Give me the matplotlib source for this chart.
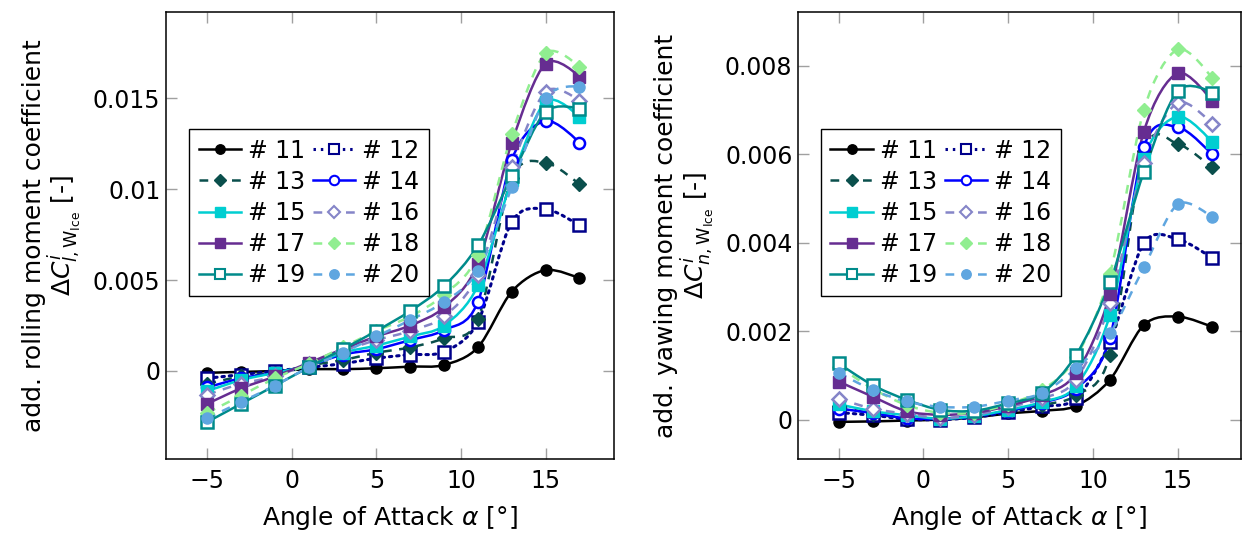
import numpy as np
import matplotlib
matplotlib.use("Agg")
import matplotlib.pyplot as plt
from matplotlib.path import Path
from matplotlib.patches import PathPatch
from matplotlib.lines import Line2D

plt.rcParams['font.family'] = ['DejaVu Sans']
plt.rcParams['mathtext.fontset'] = 'dejavusans'

# angle of attack
aoa = [-5, -3, -1, 1, 3, 5, 7, 9, 11, 13, 15, 17]
labels = ['# 11', '# 12', '# 13', '# 14', '# 15', '# 16', '# 17', '# 18', '# 19', '# 20']

# additional rolling moment coefficient
roll_11 = [-0.0001, -0.00005, 0.0, 0.0001, 0.0001, 0.00015, 0.00024, 0.00033, 0.0013, 0.00436, 0.00555, 0.0051]
roll_12 = [-0.0004, -0.0002, 0.0, 0.0002, 0.0004, 0.0007, 0.0009, 0.00106, 0.0027, 0.0082, 0.0089, 0.0080]
roll_13 = [-0.0007, -0.0003, -0.0001, 0.0003, 0.0006, 0.001, 0.0013, 0.0018, 0.00284, 0.0106, 0.01145, 0.01026]
roll_14 = [-0.0009, -0.0004, -0.0001, 0.0003, 0.0009, 0.0012, 0.0017, 0.00225, 0.0038, 0.0116, 0.01375, 0.01255]
roll_15 = [-0.0011, -0.0005, -0.0001, 0.0003, 0.001, 0.0014, 0.0019, 0.0025, 0.0047, 0.0105, 0.0148, 0.01394]
roll_16 = [-0.0013, -0.0007, -0.0003, 0.0004, 0.0011, 0.0017, 0.0022, 0.003, 0.0053, 0.0112, 0.01535, 0.01484]
roll_17 = [-0.0018, -0.00095, -0.0003, 0.00045, 0.0012, 0.0019, 0.0025, 0.0035, 0.0059, 0.01255, 0.0169, 0.01617]
roll_18 = [-0.0023, -0.00135, -0.0004, 0.0004, 0.0013, 0.0022, 0.003, 0.0042, 0.0064, 0.013, 0.01746, 0.01669]
roll_19 = [-0.0028, -0.0018, -0.0008, 0.0002, 0.0012, 0.0022, 0.0033, 0.00467, 0.0069, 0.0107, 0.01425, 0.0144]
roll_20 = [-0.0026, -0.0017, -0.0008, 0.0002, 0.001, 0.0019, 0.0028, 0.0038, 0.0055, 0.0101, 0.015, 0.01562]

# additional yawing moment coefficient
yaw_11 = [-0.00005, -0.00004, -0.00002, 0.0, 0.00005, 0.00014, 0.0002, 0.00031, 0.0009, 0.00214, 0.00233, 0.0021]
yaw_12 = [0.00016, 0.0001, 0.00001, 0.0, 0.00005, 0.00017, 0.0003, 0.00048, 0.00176, 0.00399, 0.00408, 0.00366]
yaw_13 = [0.0003, 0.00013, 0.00004, 0.00002, 0.00008, 0.0002, 0.00033, 0.00055, 0.00146, 0.00606, 0.00623, 0.0057]
yaw_14 = [0.00025, 0.00015, 0.00003, 0.00002, 0.00008, 0.0002, 0.00038, 0.0007, 0.00185, 0.00616, 0.00661, 0.006]
yaw_15 = [0.00035, 0.00019, 0.0001, 0.00002, 0.00008, 0.00022, 0.0004, 0.00076, 0.00237, 0.0059, 0.00685, 0.00628]
yaw_16 = [0.00047, 0.00025, 0.00013, 0.00004, 0.0001, 0.00028, 0.00048, 0.0009, 0.00263, 0.00581, 0.00716, 0.00668]
yaw_17 = [0.00086, 0.00052, 0.00019, 0.00011, 0.00015, 0.00031, 0.00055, 0.00105, 0.00284, 0.00651, 0.00783, 0.00721]
yaw_18 = [0.0012, 0.0007, 0.00033, 0.00015, 0.00016, 0.00035, 0.00067, 0.00141, 0.0033, 0.007, 0.00837, 0.00773]
yaw_19 = [0.00127, 0.00078, 0.00045, 0.00022, 0.0002, 0.00037, 0.0006, 0.00146, 0.0031, 0.0056, 0.00743, 0.00739]
yaw_20 = [0.00106, 0.00067, 0.00041, 0.00029, 0.00029, 0.00043, 0.0006, 0.00116, 0.00195, 0.00344, 0.00487, 0.00457]

roll = [roll_11, roll_12, roll_13, roll_14, roll_15, roll_16, roll_17, roll_18, roll_19, roll_20]
yaw = [yaw_11, yaw_12, yaw_13, yaw_14, yaw_15, yaw_16, yaw_17, yaw_18, yaw_19, yaw_20]

dash = (0, (3.5, 3))
dot = (0, (0.8, 1.6))
# color, linestyle, marker, open marker
styles = [
    ('black',   '-',  'o', False),
    ('#00008b', dot,  's', True),
    ('#0a4f4c', dash, 'D', False),
    ('#0000ff', '-',  'o', True),
    ('#00ced1', '-',  's', False),
    ('#8585c8', dash, 'D', True),
    ('#662d91', '-',  's', False),
    ('#90ee90', dash, 'D', False),
    ('#008b8b', '-',  's', True),
    ('#5fa6e0', dash, 'o', False),
]


def smooth_path(xs, ys, k=0.152):
    # bezier path like tikz "smooth" (tension 0.55)
    pts = np.column_stack([xs, ys]).astype(float)
    n = len(pts)
    verts = [pts[0]]
    codes = [Path.MOVETO]
    for i in range(n - 1):
        p0, p1 = pts[i], pts[i + 1]
        c1 = p0 if i == 0 else p0 + k * (pts[i + 1] - pts[i - 1])
        c2 = p1 if i + 1 == n - 1 else p1 - k * (pts[i + 2] - pts[i])
        verts += [c1, c2, p1]
        codes += [Path.CURVE4] * 3
    return Path(verts, codes)


def draw(ax, series):
    handles = []
    for vals, (c, ls, m, hollow) in zip(series, styles):
        lw = 2.2 if ls is dot else 1.8
        ax.add_patch(PathPatch(smooth_path(aoa, vals), fill=False, ec=c, lw=lw, ls=ls,
                               capstyle='round' if ls is dot else 'butt'))
        ms = 7.5 if m == 'D' else 8
        fc = 'white' if hollow else c
        ax.plot(aoa, vals, ls='none', marker=m, ms=ms, mfc=fc, mec=c, mew=1.8 if hollow else 1)
        handles.append(Line2D([], [], color=c, ls=ls, lw=lw, marker=m, ms=ms * 0.85, mfc=fc, mec=c,
                              mew=1.5 if hollow else 1))
    return handles


fig = plt.figure(figsize=(12.43, 5.34), dpi=100)
ax1 = fig.add_axes([0.1335, 0.1404, 0.3605, 0.837])
ax2 = fig.add_axes([0.642, 0.1404, 0.356, 0.837])

h = draw(ax1, roll)
draw(ax2, yaw)

# legend is filled row by row in the reference
order = [0, 2, 4, 6, 8, 1, 3, 5, 7, 9]
h_leg = [h[i] for i in order]
l_leg = [labels[i] for i in order]

ax1.set_xlim(-7.45, 19.05)
ax1.set_ylim(-0.00484, 0.01973)
ax1.set_yticks([0, 0.005, 0.01, 0.015])
ax1.set_yticklabels(['0', '0.005', '0.01', '0.015'])
ax1.set_ylabel('add. rolling moment coefficient\n$\\Delta C^{i}_{l,\\mathrm{W}_{\\mathrm{Ice}}}$ [-]',
               fontsize=18, labelpad=6, linespacing=1.0)

ax2.set_xlim(-7.4, 18.7)
ax2.set_ylim(-0.00089, 0.00921)
ax2.set_yticks([0, 0.002, 0.004, 0.006, 0.008])
ax2.set_yticklabels(['0', '0.002', '0.004', '0.006', '0.008'])
ax2.set_ylabel('add. yawing moment coefficient\n$\\Delta C^{i}_{n,\\mathrm{W}_{\\mathrm{Ice}}}$ [-]',
               fontsize=18, labelpad=6, linespacing=1.0)

for ax in (ax1, ax2):
    ax.set_xticks([-5, 0, 5, 10, 15])
    ax.set_xticklabels(['\u22125', '0', '5', '10', '15'])
    ax.set_xlabel('Angle of Attack $\\alpha$ [°]', fontsize=18, labelpad=8)
    ax.tick_params(direction='in', length=8, width=1, color='#a0a0a0', labelsize=17,
                   top=True, right=True)
    ax.tick_params(axis='y', pad=4)
    ax.tick_params(axis='x', pad=7)
    for s in ax.spines.values():
        s.set_linewidth(1.1)
    ax.legend(h_leg, l_leg, ncol=2, loc='upper left', bbox_to_anchor=(0.052, 0.738),
              borderaxespad=0, fontsize=17, fancybox=False, edgecolor='black',
              framealpha=1, handlelength=1.8, columnspacing=0.3, handletextpad=0.3,
              labelspacing=0.3, borderpad=0.4).get_frame().set_linewidth(1.0)

fig.savefig('out.png', dpi=100)
